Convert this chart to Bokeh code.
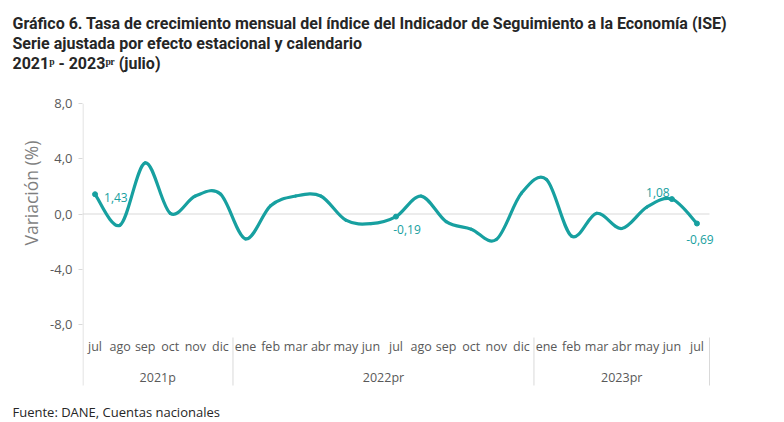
import numpy as np
from bokeh.plotting import figure
from bokeh.models import FixedTicker, Title
from bokeh.core.properties import value
from bokeh.embed import file_html
from bokeh.resources import INLINE

# ---------------- data ----------------
years = ["2021p", "2022pr", "2023pr"]
months_2021 = ["jul", "ago", "sep", "oct", "nov", "dic"]
months_2022 = ["ene", "feb", "mar", "abr", "may", "jun", "jul", "ago", "sep", "oct", "nov", "dic"]
months_2023 = ["ene", "feb", "mar", "abr", "may", "jun", "jul"]
values_2021 = [1.43, -0.80, 3.70, 0.05, 1.30, 1.45]
values_2022 = [-1.80, 0.60, 1.30, 1.30, -0.45, -0.70, -0.19, 1.30, -0.55, -1.10, -1.85, 1.50]
values_2023 = [2.50, -1.60, 0.05, -1.05, 0.50, 1.08, -0.69]
labeled_idx = [0, 12, 23, 24]
labeled_txt = ["1,43", "-0,19", "1,08", "-0,69"]
y_ticks = [-8, -4, 0, 4, 8]
y_tick_labels = ["-8,0", "-4,0", "0,0", "4,0", "8,0"]

title_lines = [
    "Gráfico 6. Tasa de crecimiento mensual del índice del Indicador de Seguimiento a la Economía (ISE)",
    "Serie ajustada por efecto estacional y calendario",
    "2021ᵖ - 2023ᵖʳ (julio)",
]
y_title = "Variación (%)"
source_note = "Fuente: DANE, Cuentas nacionales"

# ---------------- derived ----------------
months = months_2021 + months_2022 + months_2023
vals = np.array(values_2021 + values_2022 + values_2023, dtype=float)
n = len(vals)
xs = np.arange(n, dtype=float)
group_sizes = [len(months_2021), len(months_2022), len(months_2023)]

TEAL = "#17a0a0"
GRAY = "#595959"
LIGHT = "#d9d9d9"

# geometry (page pixels)
W, H = 770, 419
FL, FR, FT, FB = 82, 740, 103, 400
AXIS_BOTTOM = 385               # where the left axis line and separators end
AX_R = 709                      # right end of the category axis
SX = (AX_R - FL) / n
SY = (324 - 103) / 16.0
Y_TOP = 8.0
Y_BOT = Y_TOP - (FB - FT) / SY
X_END = -0.5 + (FR - FL) / SX


def dy(py):
    return Y_TOP - (py - FT) / SY


p = figure(
    frame_width=FR - FL, frame_height=FB - FT,
    min_border_left=FL, min_border_right=W - FR,
    min_border_top=FT, min_border_bottom=H - FB,
    x_range=(-0.5, X_END), y_range=(Y_BOT, Y_TOP),
    output_backend="svg", toolbar_location=None,
)
p.outline_line_color = None
p.background_fill_color = "white"
p.border_fill_color = "white"
p.xaxis.visible = False
p.xgrid.visible = False
p.ygrid.visible = False

ax = p.yaxis[0]
ax.ticker = FixedTicker(ticks=y_ticks)
ax.major_label_overrides = {t: l for t, l in zip(y_ticks, y_tick_labels)}
ax.major_label_text_font = "Open Sans"
ax.major_label_text_font_size = "13px"
ax.major_label_text_color = GRAY
ax.axis_line_color = None
ax.major_tick_line_color = LIGHT
ax.major_tick_out = 4
ax.major_tick_in = 0
ax.minor_tick_out = 0
ax.minor_tick_in = 0
ax.major_label_standoff = 6

title_style = dict(align="left", offset=-(FL - 12), text_font="Roboto",
                   text_font_style="bold", text_font_size="16px", text_color="#262626",
                   standoff=-1)

# chart title: line 1 is the plot title (outermost); spacer, line 3, line 2 stacked inward
p.title.text = title_lines[0]
for k, v in title_style.items():
    setattr(p.title, k, v)
spacer = Title(text=" ", text_font_size="10px", standoff=18)
t3 = Title(text=title_lines[2], **title_style)
t2 = Title(text=title_lines[1], **title_style)
p.add_layout(spacer, "above")
p.add_layout(t3, "above")
p.add_layout(t2, "above")

# y axis title
yt = Title(text=y_title, align="left", offset=(FB - 245), text_font="Open Sans",
           text_font_style="normal", text_font_size="17.5px", text_color="#7f7f7f")
p.add_layout(yt, "left")

# source note
st = Title(text=source_note, align="left", offset=-(FL - 12), text_font="Open Sans",
           text_font_style="normal", text_font_size="13px", text_color="#262626",
           standoff=0)
p.add_layout(st, "below")

# left axis line (stops at the category axis bottom)
p.segment(x0=[-0.5 + 0.5 / SX], y0=[Y_TOP], x1=[-0.5 + 0.5 / SX], y1=[dy(AXIS_BOTTOM)],
          line_color=LIGHT, line_width=1)

# zero line along the category axis
p.segment(x0=[-0.5], y0=[0], x1=[n - 0.5], y1=[0], line_color=LIGHT, line_width=1)

# smoothed line (Catmull-Rom style bezier, like spreadsheet smoothing)
P = np.column_stack([xs, vals])
seg = {k: [] for k in ["x0", "y0", "x1", "y1", "cx0", "cy0", "cx1", "cy1"]}
for i in range(n - 1):
    pm = P[i - 1] if i > 0 else P[i]
    pp = P[i + 2] if i + 2 < n else P[i + 1]
    c1 = P[i] + (P[i + 1] - pm) / 6.0
    c2 = P[i + 1] - (pp - P[i]) / 6.0
    seg["x0"].append(P[i][0]); seg["y0"].append(P[i][1])
    seg["x1"].append(P[i + 1][0]); seg["y1"].append(P[i + 1][1])
    seg["cx0"].append(c1[0]); seg["cy0"].append(c1[1])
    seg["cx1"].append(c2[0]); seg["cy1"].append(c2[1])
p.bezier(line_color=TEAL, line_width=3.2, line_cap="round", **seg)

lx = [xs[i] for i in labeled_idx]
ly = [vals[i] for i in labeled_idx]
p.scatter(lx, ly, size=5, marker="circle", color=TEAL)

label_xoff = [9, 11, -14, 3]
label_yoff = [3, 13, -7, 16]
label_align = ["left", "center", "center", "center"]
p.text(x=lx, y=ly, text=labeled_txt, x_offset=label_xoff, y_offset=label_yoff,
       text_align=label_align, text_baseline="middle",
       text_font=value("Open Sans"), text_font_size="12px", text_color=TEAL)

# category labels
p.text(x=xs, y=[dy(346)] * n, text=months, text_align="center", text_baseline="middle",
       text_font=value("Open Sans"), text_font_size="12.5px", text_color=GRAY)
bounds = np.concatenate([[0], np.cumsum(group_sizes)]) - 0.5
centers = (bounds[:-1] + bounds[1:]) / 2
p.text(x=centers, y=[dy(377)] * len(years), text=years, text_align="center",
       text_baseline="middle", text_font=value("Open Sans"), text_font_size="12.5px",
       text_color=GRAY)
p.segment(x0=bounds[1:], y0=[dy(337)] * (len(bounds) - 1), x1=bounds[1:],
          y1=[dy(AXIS_BOTTOM)] * (len(bounds) - 1), line_color=LIGHT, line_width=1)

open("out.html", "w").write(file_html(p, INLINE))
